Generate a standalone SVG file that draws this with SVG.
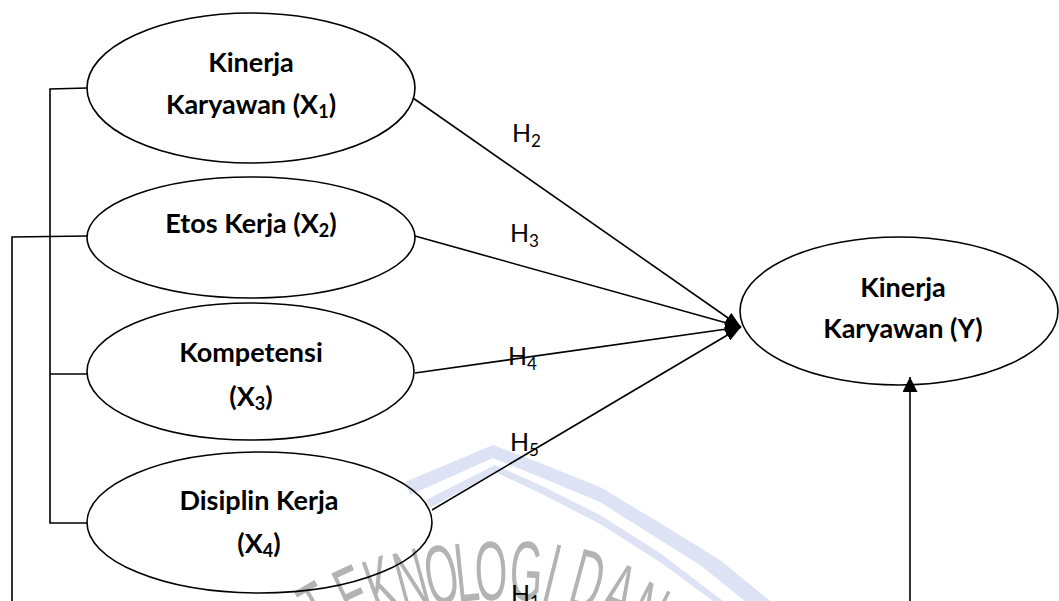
<svg xmlns="http://www.w3.org/2000/svg" width="1059" height="601" viewBox="0 0 1059 601">
<defs>
<style>
.node{fill:none;stroke:#000;stroke-width:1.6}
.conn{fill:none;stroke:#000;stroke-width:1.6}
.lbl{font-family:Lato,"Open Sans","Liberation Sans",sans-serif;font-weight:bold;font-size:27px;fill:#000;text-anchor:middle}
.hyp{font-family:Lato,"Open Sans","Liberation Sans",sans-serif;font-size:25px;fill:#000}
.wm{font-family:"Liberation Sans",Arial,sans-serif;font-size:84px;fill:#b3b3b3;text-anchor:middle}
.band{fill:#dde2f4}
</style>
<marker id="ah" markerUnits="userSpaceOnUse" markerWidth="16" markerHeight="12" refX="16" refY="6" orient="auto">
<path d="M0,0 L16,6 L0,12 z" fill="#000"/>
</marker>
<marker id="ah2" markerUnits="userSpaceOnUse" markerWidth="16" markerHeight="16" refX="15" refY="7.5" orient="auto">
<path d="M0,0 L15,7.5 L0,15 z" fill="#000"/>
</marker>
</defs>
<rect width="1059" height="601" fill="#fff"/>

<g id="watermark">
<path class="band" d="M405,482 L493,445 L540,463 L600,487 L660,523 L720,560 L770,601 L745,601 L700,565 L660,540 L600,502 L540,477 L493,458 L410,495 Z"/>
<path class="band" d="M426,500 L495,465 L540,485 L600,515 L660,553 L723,601 L713,601 L660,562 L600,524 L540,493 L495,472 L430,508 Z"/>
<text class="wm" transform="translate(303,584) rotate(-30) scale(0.5,1)" y="60">T</text>
<text class="wm" transform="translate(340,567) rotate(-25) scale(0.5,1)" y="60">E</text>
<text class="wm" transform="translate(371,557) rotate(-20) scale(0.5,1)" y="60">K</text>
<text class="wm" transform="translate(403,549) rotate(-15) scale(0.5,1)" y="60">N</text>
<text class="wm" transform="translate(436,544) rotate(-10) scale(0.5,1)" y="60">O</text>
<text class="wm" transform="translate(463,541) rotate(-6) scale(0.5,1)" y="60">L</text>
<text class="wm" transform="translate(490,540) rotate(-2) scale(0.5,1)" y="60">O</text>
<text class="wm" transform="translate(528,540) rotate(3) scale(0.5,1)" y="60">G</text>
<text class="wm" transform="translate(560,543) rotate(14) scale(0.5,1)" y="60">I</text>
<text class="wm" transform="translate(596,550) rotate(15) scale(0.5,1)" y="60">D</text>
<text class="wm" transform="translate(630,564) rotate(21) scale(0.5,1)" y="60">A</text>
<text class="wm" transform="translate(661,585) rotate(27) scale(0.5,1)" y="60">N</text>
</g>

<g id="connectors">
<polyline class="conn" points="87,88 50,89 50,523 87,523"/>
<line class="conn" x1="50" y1="374" x2="87" y2="374"/>
<polyline class="conn" points="87,236 12,237 12,601"/>
<line class="conn" x1="413" y1="98" x2="741" y2="327" marker-end="url(#ah)"/>
<line class="conn" x1="415" y1="236" x2="741" y2="327" marker-end="url(#ah)"/>
<line class="conn" x1="415" y1="373" x2="741" y2="327" marker-end="url(#ah)"/>
<line class="conn" x1="432" y1="510" x2="741" y2="327" marker-end="url(#ah)"/>
<line class="conn" x1="910" y1="601" x2="910" y2="377" marker-end="url(#ah2)"/>
<text class="hyp" x="512" y="142">H<tspan font-size="17" dy="5">2</tspan></text>
<text class="hyp" x="510" y="242">H<tspan font-size="17" dy="5">3</tspan></text>
<text class="hyp" x="508" y="365">H<tspan font-size="17" dy="5">4</tspan></text>
<text class="hyp" x="510" y="451">H<tspan font-size="17" dy="5">5</tspan></text>
<text class="hyp" x="511" y="603">H<tspan font-size="17" dy="5">1</tspan></text>
</g>

<g id="x1">
<ellipse class="node" cx="251" cy="88" rx="164" ry="75"/>
<text class="lbl" x="251" y="72">Kinerja</text>
<text class="lbl" x="251" y="114">Karyawan (X<tspan font-size="18" dy="4">1</tspan><tspan dy="-4">)</tspan></text>
</g>
<g id="x2">
<ellipse class="node" cx="251" cy="237.5" rx="164" ry="60.5"/>
<text class="lbl" x="251" y="233">Etos Kerja (X<tspan font-size="18" dy="4">2</tspan><tspan dy="-4">)</tspan></text>
</g>
<g id="x3">
<ellipse class="node" cx="250.5" cy="371.5" rx="163.5" ry="68.5"/>
<text class="lbl" x="251" y="362">Kompetensi</text>
<text class="lbl" x="251" y="406">(X<tspan font-size="18" dy="4">3</tspan><tspan dy="-4">)</tspan></text>
</g>
<g id="x4">
<ellipse class="node" cx="259.5" cy="522.5" rx="172.5" ry="70.5"/>
<text class="lbl" x="259" y="510">Disiplin Kerja</text>
<text class="lbl" x="259" y="553">(X<tspan font-size="18" dy="4">4</tspan><tspan dy="-4">)</tspan></text>
</g>
<g id="y">
<ellipse class="node" cx="899" cy="311" rx="159" ry="74"/>
<text class="lbl" x="903" y="297">Kinerja</text>
<text class="lbl" x="903" y="338">Karyawan (Y)</text>
</g>
</svg>
